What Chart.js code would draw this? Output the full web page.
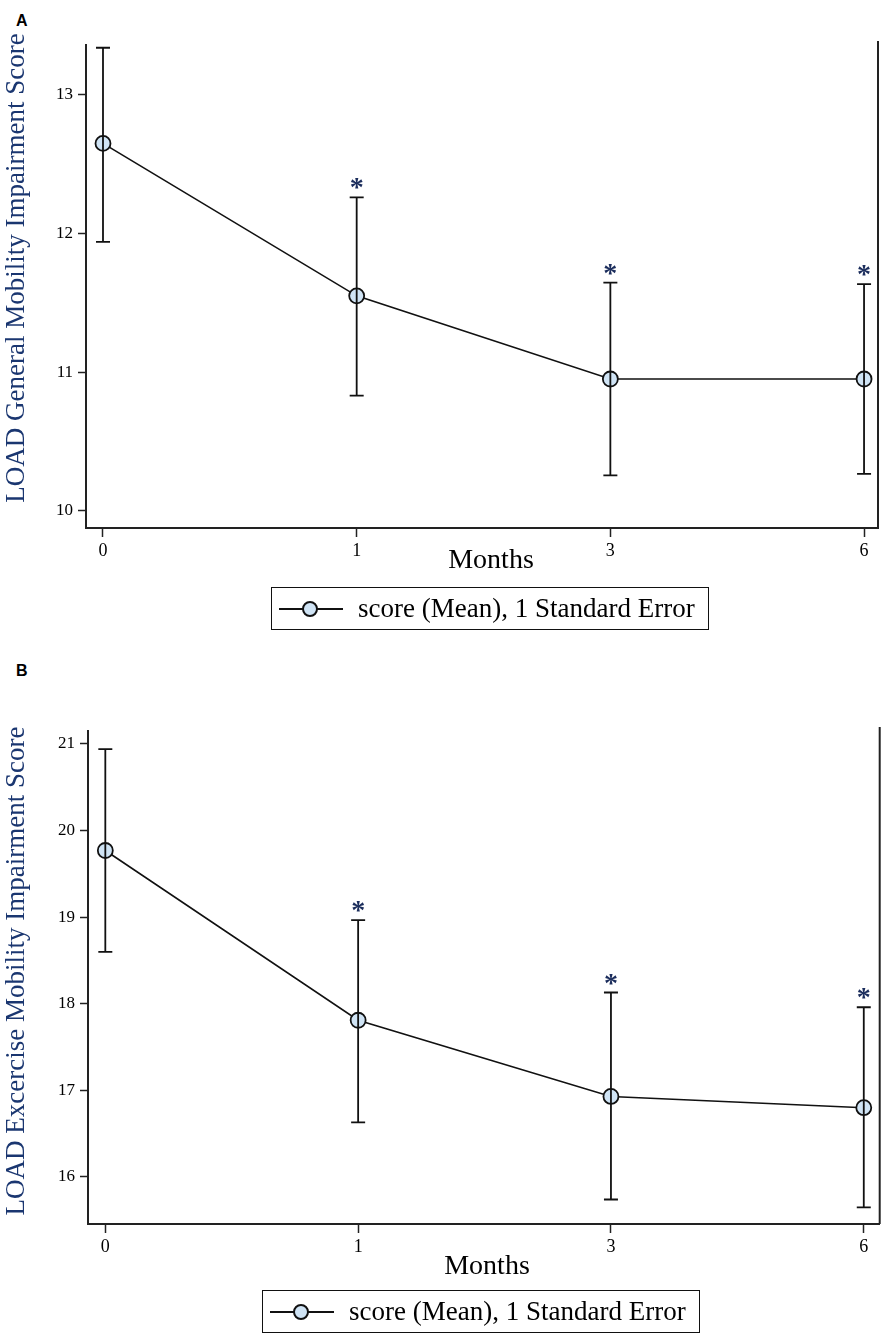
<!DOCTYPE html>
<html>
<head>
<meta charset="utf-8">
<script src="https://cdn.jsdelivr.net/npm/chart.js@4.4.0/dist/chart.umd.min.js"></script>
<style>
  body { margin: 0; background: #fff; width: 889px; height: 1339px; position: relative; overflow: hidden; font-family: 'Liberation Serif', serif; }
  .panel { position: absolute; left: 0; width: 889px; }
  .tag { position: absolute; left: 16px; font: bold 16px 'Liberation Sans', Arial, sans-serif; line-height: 16px; }
  .legend { position: absolute; box-sizing: border-box; width: 438px; height: 43px; border: 1.5px solid #111; }
  .legend .ln { position: absolute; left: 7px; top: 20px; width: 64px; height: 0; border-top: 2px solid #111; }
  .legend .dot { position: absolute; left: 30px; top: 13px; width: 16px; height: 16px; box-sizing: border-box; border: 2px solid #111; border-radius: 50%; background: #d0e4f5; }
  .legend .txt { position: absolute; left: 86px; top: 0; line-height: 40px; font-size: 27px; color: #000; white-space: nowrap; }
</style>
</head>
<body>
<div class="tag" style="top:13px">A</div>
<div class="panel" style="top:0;height:650px"><canvas id="grafica-a"></canvas></div>
<div class="legend" style="left:271px;top:587px"><div class="ln"></div><div class="dot"></div><div class="txt">score (Mean), 1 Standard Error</div></div>

<div class="tag" style="top:663px">B</div>
<div class="panel" style="top:650px;height:689px"><canvas id="grafica-b"></canvas></div>
<div class="legend" style="left:262px;top:1290px"><div class="ln"></div><div class="dot"></div><div class="txt">score (Mean), 1 Standard Error</div></div>

<script>
const months = ['0', '1', '3', '6']
const stars = [false, true, true, true]

// panel A - general mobility
const scoreA = [12.65, 11.55, 10.95, 10.95]
const upperA = [13.34, 12.26, 11.645, 11.635]
const lowerA = [11.94, 10.83, 10.255, 10.265]
const yTicksA = [10, 11, 12, 13]

// panel B - excercise mobility
const scoreB = [19.77, 17.81, 16.93, 16.80]
const upperB = [20.94, 18.965, 18.13, 17.96]
const lowerB = [18.60, 16.63, 15.74, 15.65]
const yTicksB = [16, 17, 18, 19, 20, 21]

Chart.defaults.font.family = "'Liberation Serif', serif"
Chart.defaults.color = '#000'

function decoPlugin(lo, hi, title, titleY, monthsX, monthsY) {
  return {
    id: 'deco',
    afterDatasetsDraw(chart) {
      const ctx = chart.ctx
      const xs = chart.scales.x
      const ys = chart.scales.y
      ctx.save()
      ctx.strokeStyle = '#111'
      ctx.lineWidth = 1.8
      for (let i = 0; i < months.length; i++) {
        const px = xs.getPixelForValue(i)
        const t = ys.getPixelForValue(hi[i])
        const b = ys.getPixelForValue(lo[i])
        ctx.beginPath()
        ctx.moveTo(px, t); ctx.lineTo(px, b)
        ctx.moveTo(px - 7, t); ctx.lineTo(px + 7, t)
        ctx.moveTo(px - 7, b); ctx.lineTo(px + 7, b)
        ctx.stroke()
        if (stars[i]) {
          ctx.fillStyle = '#1b2d5c'
          ctx.font = "bold 28px 'Liberation Serif'"
          ctx.textAlign = 'center'
          ctx.textBaseline = 'alphabetic'
          ctx.fillText('*', px, t - 1)
        }
      }
      ctx.restore()
    },
    afterDraw(chart) {
      const ctx = chart.ctx
      const a = chart.chartArea
      ctx.save()
      // right frame line
      ctx.strokeStyle = '#222'
      ctx.lineWidth = 2
      ctx.beginPath()
      ctx.moveTo(a.right, a.top - 4)
      ctx.lineTo(a.right, a.bottom)
      ctx.stroke()
      // y title
      ctx.translate(17, titleY)
      ctx.rotate(-Math.PI / 2)
      ctx.font = "27px 'Liberation Serif'"
      ctx.fillStyle = '#1a3670'
      ctx.textAlign = 'center'
      ctx.textBaseline = 'middle'
      ctx.fillText(title, 0, 0)
      ctx.restore()
      // x title
      ctx.save()
      ctx.font = "28px 'Liberation Serif'"
      ctx.fillStyle = '#000'
      ctx.textAlign = 'center'
      ctx.textBaseline = 'middle'
      ctx.fillText('Months', monthsX, monthsY)
      ctx.restore()
    }
  }
}

function makeChart(id, mean, lo, hi, yMin, yMax, yTicks, xMin, xMax, pad, yAxisW, title, titleY, monthsX, monthsY) {
  return new Chart(document.getElementById(id), {
    type: 'line',
    data: {
      datasets: [{
        data: mean.map((v, i) => ({ x: i, y: v })),
        borderColor: '#111',
        borderWidth: 1.6,
        pointRadius: 7.5,
        pointBorderWidth: 1.8,
        pointBorderColor: '#111',
        pointBackgroundColor: '#d0e4f5',
        tension: 0
      }]
    },
    options: {
      responsive: true,
      maintainAspectRatio: false,
      animation: false,
      layout: { padding: pad },
      plugins: { legend: { display: false }, tooltip: { enabled: false } },
      scales: {
        x: {
          type: 'linear',
          min: xMin,
          max: xMax,
          afterBuildTicks: (s) => { s.ticks = months.map((m, i) => ({ value: i })) },
          afterFit: (s) => { s.height = 40 },
          ticks: { callback: (v) => months[v], font: { size: 18 }, padding: 3, maxRotation: 0 },
          grid: { drawOnChartArea: false, tickLength: 9, tickColor: '#222', tickWidth: 1.5 },
          border: { display: true, color: '#222', width: 2 }
        },
        y: {
          min: yMin,
          max: yMax,
          afterBuildTicks: (s) => { s.ticks = yTicks.map((v) => ({ value: v })) },
          afterFit: (s) => { s.width = yAxisW },
          ticks: { font: { size: 17 }, padding: 5 },
          grid: { drawOnChartArea: false, tickLength: 8, tickColor: '#222', tickWidth: 1.5 },
          border: { display: true, color: '#222', width: 2 }
        }
      }
    },
    plugins: [decoPlugin(lo, hi, title, titleY, monthsX, monthsY)]
  })
}

makeChart('grafica-a', scoreA, lowerA, upperA, 9.875, 13.36, yTicksA, -0.067, 3.055,
  { top: 45, right: 11, bottom: 82, left: 0 }, 86,
  'LOAD General Mobility Impairment Score', 268, 491, 561)

makeChart('grafica-b', scoreB, lowerB, upperB, 15.457, 21.15, yTicksB, -0.0685, 3.063,
  { top: 81, right: 6, bottom: 75, left: 0 }, 88,
  'LOAD Excercise Mobility Impairment Score', 321, 487, 617)
</script>
</body>
</html>
